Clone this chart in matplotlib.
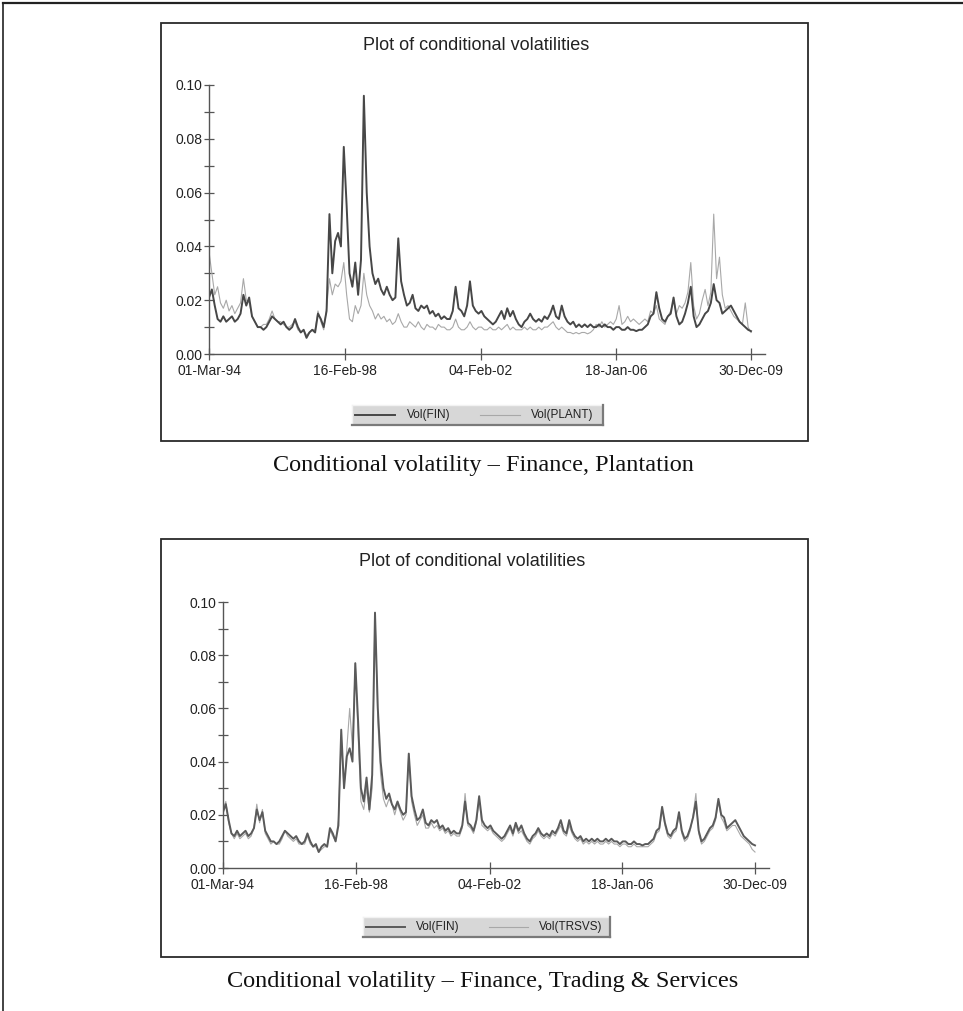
import matplotlib
matplotlib.use('Agg')
import matplotlib.pyplot as plt
from matplotlib.patches import Rectangle
from matplotlib.lines import Line2D
from matplotlib.ticker import FixedLocator
import pandas as pd

# ---------------- data ----------------
start_date = '1994-03-01'
end_date = '2009-12-30'
n_obs = 190
tick_dates = ['1994-03-01', '1998-02-16', '2002-02-04', '2006-01-18', '2009-12-30']
tick_labels = ['01-Mar-94', '16-Feb-98', '04-Feb-02', '18-Jan-06', '30-Dec-09']
y_major = [0.00, 0.02, 0.04, 0.06, 0.08, 0.10]
y_minor = [0.01, 0.03, 0.05, 0.07, 0.09]

vol_fin = [
    0.021, 0.024, 0.018, 0.013, 0.012, 0.014, 0.012, 0.013, 0.014, 0.012,
    0.013, 0.015, 0.022, 0.018, 0.021, 0.014, 0.012, 0.010, 0.010, 0.009,
    0.010, 0.012, 0.014, 0.013, 0.012, 0.011, 0.012, 0.010, 0.009, 0.010,
    0.013, 0.010, 0.008, 0.009, 0.006, 0.008, 0.009, 0.008, 0.015, 0.013,
    0.010, 0.016, 0.052, 0.030, 0.042, 0.045, 0.040, 0.077, 0.055, 0.030,
    0.025, 0.034, 0.022, 0.035, 0.096, 0.060, 0.040, 0.030, 0.026, 0.028,
    0.024, 0.022, 0.025, 0.022, 0.020, 0.021, 0.043, 0.027, 0.022, 0.018,
    0.019, 0.022, 0.017, 0.016, 0.018, 0.017, 0.018, 0.015, 0.016, 0.014,
    0.015, 0.013, 0.014, 0.013, 0.013, 0.016, 0.025, 0.017, 0.016, 0.014,
    0.018, 0.027, 0.018, 0.016, 0.015, 0.016, 0.014, 0.013, 0.012, 0.011,
    0.012, 0.014, 0.016, 0.013, 0.017, 0.014, 0.016, 0.013, 0.011, 0.010,
    0.012, 0.013, 0.015, 0.013, 0.012, 0.013, 0.012, 0.014, 0.013, 0.015,
    0.018, 0.014, 0.013, 0.018, 0.014, 0.012, 0.011, 0.012, 0.010, 0.011,
    0.010, 0.011, 0.010, 0.011, 0.010, 0.010, 0.011, 0.010, 0.011, 0.010,
    0.010, 0.009, 0.010, 0.010, 0.009, 0.009, 0.010, 0.009, 0.009, 0.0085,
    0.009, 0.009, 0.010, 0.011, 0.014, 0.015, 0.023, 0.017, 0.013, 0.012,
    0.014, 0.015, 0.021, 0.014, 0.011, 0.012, 0.015, 0.019, 0.025, 0.014,
    0.010, 0.011, 0.013, 0.015, 0.016, 0.019, 0.026, 0.020, 0.019, 0.015,
    0.016, 0.017, 0.018, 0.016, 0.014, 0.012, 0.011, 0.010, 0.009, 0.0085,
]

vol_plant = [
    0.038, 0.030, 0.022, 0.025, 0.019, 0.017, 0.020, 0.016, 0.018, 0.015,
    0.017, 0.019, 0.028, 0.020, 0.019, 0.014, 0.012, 0.010, 0.010, 0.011,
    0.011, 0.013, 0.016, 0.013, 0.012, 0.012, 0.011, 0.010, 0.010, 0.011,
    0.012, 0.009, 0.008, 0.009, 0.007, 0.008, 0.009, 0.009, 0.016, 0.012,
    0.009, 0.017, 0.028, 0.022, 0.026, 0.025, 0.027, 0.034, 0.022, 0.013,
    0.012, 0.018, 0.015, 0.018, 0.030, 0.022, 0.018, 0.016, 0.013, 0.015,
    0.013, 0.014, 0.012, 0.013, 0.011, 0.012, 0.015, 0.012, 0.010, 0.010,
    0.012, 0.011, 0.010, 0.012, 0.010, 0.009, 0.011, 0.010, 0.010, 0.009,
    0.011, 0.010, 0.010, 0.009, 0.009, 0.010, 0.013, 0.010, 0.009, 0.009,
    0.010, 0.012, 0.010, 0.009, 0.010, 0.010, 0.009, 0.009, 0.010, 0.009,
    0.009, 0.010, 0.009, 0.010, 0.011, 0.009, 0.010, 0.009, 0.009, 0.009,
    0.010, 0.009, 0.010, 0.009, 0.009, 0.010, 0.009, 0.010, 0.010, 0.011,
    0.012, 0.010, 0.009, 0.010, 0.009, 0.008, 0.008, 0.0075, 0.008, 0.0075,
    0.008, 0.008, 0.0075, 0.008, 0.009, 0.011, 0.010, 0.012, 0.010, 0.011,
    0.012, 0.011, 0.013, 0.018, 0.011, 0.012, 0.014, 0.012, 0.013, 0.012,
    0.011, 0.012, 0.013, 0.012, 0.016, 0.015, 0.018, 0.013, 0.012, 0.011,
    0.014, 0.016, 0.020, 0.015, 0.018, 0.017, 0.019, 0.023, 0.034, 0.018,
    0.013, 0.015, 0.020, 0.024, 0.018, 0.023, 0.052, 0.028, 0.036, 0.022,
    0.017, 0.018, 0.016, 0.014, 0.013, 0.012, 0.011, 0.019, 0.010, 0.008,
]

vol_trsvs = [
    0.022, 0.025, 0.017, 0.013, 0.011, 0.013, 0.011, 0.012, 0.013, 0.011,
    0.012, 0.015, 0.024, 0.017, 0.022, 0.013, 0.011, 0.009, 0.010, 0.009,
    0.009, 0.011, 0.014, 0.012, 0.011, 0.010, 0.011, 0.009, 0.009, 0.009,
    0.012, 0.009, 0.008, 0.008, 0.006, 0.007, 0.008, 0.008, 0.014, 0.012,
    0.010, 0.018, 0.050, 0.030, 0.045, 0.060, 0.045, 0.077, 0.050, 0.025,
    0.022, 0.030, 0.021, 0.030, 0.096, 0.055, 0.035, 0.026, 0.023, 0.026,
    0.024, 0.020, 0.024, 0.021, 0.018, 0.020, 0.043, 0.025, 0.020, 0.016,
    0.018, 0.020, 0.015, 0.015, 0.017, 0.015, 0.016, 0.014, 0.015, 0.013,
    0.014, 0.012, 0.013, 0.012, 0.012, 0.015, 0.028, 0.016, 0.015, 0.013,
    0.017, 0.026, 0.016, 0.015, 0.014, 0.015, 0.013, 0.012, 0.011, 0.010,
    0.011, 0.013, 0.015, 0.012, 0.016, 0.013, 0.014, 0.012, 0.010, 0.009,
    0.011, 0.012, 0.014, 0.012, 0.011, 0.012, 0.011, 0.013, 0.012, 0.014,
    0.016, 0.013, 0.012, 0.016, 0.013, 0.011, 0.010, 0.011, 0.009, 0.010,
    0.009, 0.010, 0.009, 0.010, 0.009, 0.009, 0.010, 0.009, 0.010, 0.009,
    0.009, 0.008, 0.009, 0.009, 0.008, 0.008, 0.009, 0.008, 0.008, 0.008,
    0.008, 0.008, 0.009, 0.010, 0.013, 0.014, 0.022, 0.016, 0.012, 0.011,
    0.013, 0.014, 0.020, 0.013, 0.010, 0.011, 0.014, 0.020, 0.028, 0.013,
    0.009, 0.010, 0.012, 0.014, 0.015, 0.018, 0.025, 0.019, 0.017, 0.014,
    0.015, 0.016, 0.016, 0.014, 0.012, 0.011, 0.010, 0.009, 0.007, 0.006,
]

title_text = 'Plot of conditional volatilities'
captions = ['Conditional volatility \u2013 Finance, Plantation',
            'Conditional volatility \u2013 Finance, Trading & Services']
legend_labels = [['Vol(FIN)', 'Vol(PLANT)'], ['Vol(FIN)', 'Vol(TRSVS)']]

# ---------------- layout (pixels) ----------------
W, H, DPI = 963, 1011, 100
fig = plt.figure(figsize=(W / DPI, H / DPI), dpi=DPI)
fig.patch.set_facecolor('white')
SANS = ['Liberation Sans', 'DejaVu Sans']
SERIF = ['Liberation Serif', 'DejaVu Serif']


def fx(x):
    return x / W


def fy(y):
    return 1 - y / H


def fig_rect(x0, y0, x1, y1, **kw):
    r = Rectangle((fx(x0), fy(y1)), fx(x1) - fx(x0), fy(y0) - fy(y1),
                  transform=fig.transFigure, **kw)
    fig.add_artist(r)
    return r


def fig_line(x0, y0, x1, y1, **kw):
    l = Line2D([fx(x0), fx(x1)], [fy(y0), fy(y1)], transform=fig.transFigure, **kw)
    fig.add_artist(l)
    return l


# outer page border (top and left)
fig_line(3, 3, W, 3, color='#222222', lw=1.6)
fig_line(3, 3, 3, H, color='#222222', lw=1.2)

dates = pd.date_range(start_date, end_date, periods=n_obs)
xt = pd.to_datetime(tick_dates)

light_style = dict(color='#a8a8a8', lw=0.8)
fin_lw = 1.4

panels = [
    dict(box=(161, 23, 808, 441), ax=(209, 85, 765, 354), title=(476, 45),
         legend=(352, 405, 603, 425), leg_items=(355, 395, 429, 480, 520, 562),
         caption=(483, 465), second=vol_plant, fin_color='#474747'),
    dict(box=(161, 539, 808, 957), ax=(223, 602, 769, 868), title=(472, 561),
         legend=(363, 917, 610, 937), leg_items=(366, 405, 438, 489, 528, 571),
         caption=(483, 982), second=vol_trsvs, fin_color='#5a5a5a'),
]

for i, p in enumerate(panels):
    bx0, by0, bx1, by1 = p['box']
    fig_rect(bx0, by0, bx1, by1, fill=False, ec='#2a2a2a', lw=1.3)

    ax0, ay0, ax1, ay1 = p['ax']
    ax = fig.add_axes([fx(ax0), fy(ay1), fx(ax1) - fx(ax0), fy(ay0) - fy(ay1)])
    ax.patch.set_alpha(0)
    ax.plot(dates, p['second'], **light_style)
    ax.plot(dates, vol_fin, color=p['fin_color'], lw=fin_lw)

    ndays = (xt[-1] - xt[0]).days
    px_per_day = ((ax1 - ax0) - 14) / ndays
    xend = xt[-1] + pd.Timedelta(days=14 / px_per_day)
    ax.set_xlim(xt[0], xend)
    ax.set_ylim(0, 0.10)

    for s in ['top', 'right']:
        ax.spines[s].set_visible(False)
    for s in ['left', 'bottom']:
        ax.spines[s].set_color('#555555')
        ax.spines[s].set_linewidth(1.0)

    ax.set_yticks(y_major)
    ax.set_yticklabels(['%.2f' % v for v in y_major])
    ax.yaxis.set_minor_locator(FixedLocator(y_minor))
    ax.set_xticks(xt)
    ax.set_xticklabels(tick_labels)
    ax.tick_params(axis='y', which='both', direction='inout', length=7,
                   width=0.9, color='#555555', labelsize=10, labelcolor='#222222', pad=1)
    ax.tick_params(axis='x', which='major', direction='inout', length=9,
                   width=0.9, color='#555555', labelsize=10, labelcolor='#222222', pad=3)
    for lab in ax.get_xticklabels() + ax.get_yticklabels():
        lab.set_family(SANS)

    tx, ty = p['title']
    fig.text(fx(tx), fy(ty), title_text, ha='center', va='center',
             fontsize=13, family=SANS, color='#222222')

    # legend (button-like box)
    lx0, ly0, lx1, ly1 = p['legend']
    fig_rect(lx0, ly0, lx1, ly1, fc='#d7d7d7', ec='none')
    fig_line(lx0, ly0, lx1, ly0, color='#f2f2f2', lw=1.0)
    fig_line(lx0, ly0, lx0, ly1, color='#f2f2f2', lw=1.0)
    fig_line(lx0, ly1, lx1, ly1, color='#7a7a7a', lw=1.6)
    fig_line(lx1, ly0, lx1, ly1, color='#7a7a7a', lw=1.6)
    d0, d1, t1, l0, l1, t2 = p['leg_items']
    ym = (ly0 + ly1) / 2
    fig_line(d0, ym, d1, ym, color=p['fin_color'], lw=fin_lw)
    fig_line(l0, ym, l1, ym, **light_style)
    fig.text(fx(t1), fy(ym), legend_labels[i][0], ha='center', va='center',
             fontsize=8.5, family=SANS, color='#222222')
    fig.text(fx(t2), fy(ym), legend_labels[i][1], ha='center', va='center',
             fontsize=8.5, family=SANS, color='#222222')

    cx, cy = p['caption']
    fig.text(fx(cx), fy(cy), captions[i], ha='center', va='center',
             fontsize=17.5, family=SERIF, color='#111111')

fig.savefig('out.png', dpi=DPI, facecolor='white')
